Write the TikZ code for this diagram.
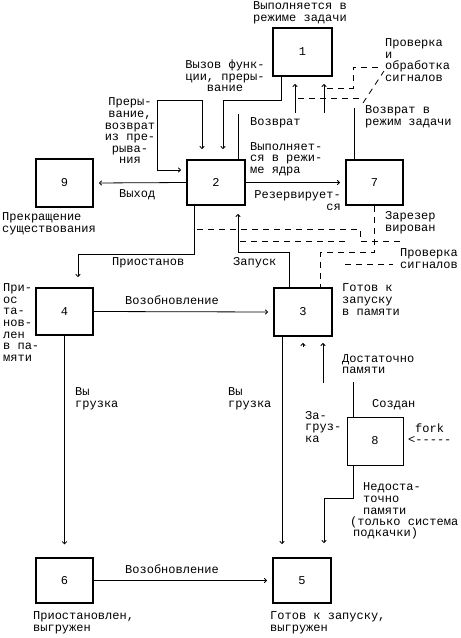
\documentclass[tikz,border=0pt]{standalone}
\usepackage{fontspec}
\newfontfamily\monofnt{Liberation Mono}
\usetikzlibrary{arrows.meta,calc}
\newcommand\lblf{\monofnt\fontsize{12}{11.6}\selectfont}
\begin{document}
\begin{tikzpicture}[x=1pt,y=-1pt,
  box/.style={draw, line width=2pt, minimum width=57pt, minimum height=46pt, inner sep=0pt, font=\lblf},
  lbl/.style={inner sep=0pt, font=\lblf},
  ln/.style={line width=0.8pt},
  arr/.style={ln, -{To[length=3pt,width=5pt]}, shorten >=5pt},
  darr/.style={ln, -{To[length=3pt,width=5pt]}, shorten >=10pt},
  dsh/.style={line width=0.8pt, dash pattern=on 6pt off 5pt}]
\useasboundingbox (0,0) rectangle (461,638);
% boxes
\node[box, minimum width=59pt, minimum height=48pt] (b1) at (302.5,52) {1};
\node[box, minimum width=58pt, minimum height=45pt] (b2) at (216,182.5) {2};
\node[box, minimum width=57pt, minimum height=45pt] (b7) at (374.5,182.5) {7};
\node[box, minimum width=57pt, minimum height=48pt] (b9) at (64.5,183) {9};
\node[box, minimum width=57pt, minimum height=47pt] (b4) at (64.5,311.5) {4};
\node[box, minimum width=58pt, minimum height=48pt] (b3) at (303,312) {3};
\node[box, line width=1.4pt, minimum width=57pt, minimum height=45pt] (b6) at (64.5,580.5) {6};
\node[box, minimum width=58pt, minimum height=45pt] (b5) at (302,580.5) {5};
\node[box, line width=1pt, minimum width=56pt, minimum height=48pt] (b8) at (375,441) {8};
% connectors
\draw[arr] (b2.west) -- (b9.east);
\draw[arr] (b2.east) -- (b7.west);
\draw[darr] ($(b1.south)+(-21.5,0)$) -- ++(0,23) -| ($(b2.north)+(7,0)$);
\draw[ln, {To[length=3pt,width=5pt]}-{To[length=3pt,width=5pt]}, shorten <=10pt, shorten >=5pt]
  ($(b2.north)+(-14,0)$) |- ($(b2.west)+(-29,-82.5)$) |- ($(b2.west)+(0,-12.5)$);
\coordinate (v1) at ($(b2.north)+(22,-45)$);
\draw[ln] ($(b2.north)+(22,0)$) -- (v1);
\coordinate (v2) at ($(b1.south)+(-7.5,36)$);
\draw[arr, shorten >=7pt] (v2) -- ($(b1.south)+(-7.5,0)$);
\coordinate (v3) at ($(b7.north)+(-20.5,-51)$);
\draw[ln] ($(b7.north)+(-20.5,0)$) -- (v3);
\coordinate (v4) at ($(b1.south)+(21.5,36)$);
\draw[arr, shorten >=7pt] (v4) -- ($(b1.south)+(21.5,0)$);
% dashed near box 1
\coordinate (s1) at (327,88);
\coordinate (s2) at (382,67);
\draw[dsh] (s1) -- (353,88) -- (353,67) -- (s2);
\coordinate (s3) at (298,98);
\coordinate (s4) at (360,95);
\draw[dsh] (s3) -| (s4);
\coordinate (s5) at (363,103);
\coordinate (s6) at (384,71);
\draw[dsh] (s5) -- (s6);
% box2 bottom
\draw[darr] ($(b2.south)+(-22,0)$) -- ++(0,48) -| ($(b4.north)+(13.5,0)$);
\draw[arr, shorten >=8pt] ($(b3.north)+(-14,0)$) -- ++(0,-35) -| ($(b2.south)+(22,0)$);
% dashed centre
\coordinate (s7) at (197,229);
\coordinate (s8) at (403,241);
\draw[dsh] (s7) -- (360,229) -- (360,241) -- (s8);
\coordinate (s9) at (240,241);
\coordinate (s10) at (345,241);
\draw[dsh] (s9) -- (s10);
\draw[dsh] (b7.south) |- ($(b3.north)+(17,-35)$) -- ($(b3.north)+(17,0)$);
\coordinate (s11) at (345,264);
\coordinate (s12) at (393,264);
\draw[dsh] (s11) -- (s12);
% middle and lower
\draw[arr] (b4.east) -- (b3.west);
\draw[darr, shorten >=13pt] (b4.south) -- (b6.north);
\coordinate (c35) at ($(b3.south)+(-21,0)$);
\draw[darr, shorten >=13pt] (c35) -- (c35 |- b5.north);
\draw[arr, shorten >=6pt] ($(b3.south)+(0,10)$) -- (b3.south);
\coordinate (d1) at ($(b8.north)+(-22,-35)$);
\draw[ln] ($(b8.north)+(-22,0)$) -- (d1);
\coordinate (d2) at ($(b3.south)+(20,46)$);
\draw[arr, shorten >=6pt] (d2) -- ($(b3.south)+(20,0)$);
\draw[darr, shorten >=14pt] ($(b8.south)+(-22,0)$) -- ++(0,33) -| ($(b5.north)+(22,0)$);
\draw[arr] (b6.east) -- (b5.west);
% labels
\node[lbl, align=center] (t1) at (300,13) {Выполняется в\\режиме задачи};
\node[lbl, align=center] (t2) at (225,76) {Вызов функ-\\ции, преры-\\вание};
\node[lbl, align=center] (t3) at (130,131) {Преры-\\вание,\\возврат\\из пре-\\рыва-\\ния};
\node[lbl, anchor=west] (t4) at (250,123) {Возврат};
\node[lbl, anchor=west, align=left] (t5) at (250,159) {Выполняет-\\ся в режи-\\ме ядра};
\node[lbl, anchor=west, align=left] (t6) at (385,60) {Проверка\\и\\обработка\\сигналов};
\node[lbl, anchor=west, align=left] (t7) at (365,116.5) {Возврат в\\режим задачи};
\node[lbl, anchor=west] (t8) at (119,195) {Выход};
\node[lbl, anchor=east, align=right] (t9) at (341,200.5) {Резервирует-\\ся};
\node[lbl, anchor=west, align=left] (t10) at (2,224) {Прекращение\\существования};
\node[lbl, anchor=west, align=left] (t11) at (385,222.5) {Зарезер\\вирован};
\node[lbl, anchor=west] (t12) at (112,263) {Приостанов};
\node[lbl, anchor=west] (t13) at (233,263) {Запуск};
\node[lbl, anchor=west, align=left] (t14) at (400,258.5) {Проверка\\сигналов};
\node[lbl, anchor=west, align=left] (t15) at (342,299.5) {Готов к\\запуску\\в памяти};
\node[lbl, anchor=west] (t16) at (125,300) {Возобновление};
\node[lbl, anchor=west, align=left] (t17) at (3,322.5) {При-\\ос\\та-\\нов-\\лен\\в па-\\мяти};
\node[lbl, anchor=west, align=left] (t18) at (75,399) {Вы\\грузка};
\node[lbl, anchor=west, align=left] (t19) at (228,399) {Вы\\грузка};
\node[lbl, anchor=west, align=left] (t20) at (342,364) {Достаточно\\памяти};
\node[lbl, anchor=west] (t21) at (372,405) {Создан};
\node[lbl, anchor=west, align=left] (t22) at (305,427) {За-\\груз-\\ка};
\node[lbl, anchor=west] (t23) at (415,428) {fork};
\node[lbl, anchor=west] (t24) at (408,440) {<-----};
\node[lbl, anchor=west, align=left] (t25) at (363,498.5) {Недоста-\\точно\\памяти};
\node[lbl, anchor=west, align=left] (t26) at (350,528) {(только система\\\hspace*{3pt}подкачки)};
\node[lbl, anchor=west] (t27) at (125,569) {Возобновление};
\node[lbl, anchor=west, align=left] (t28) at (33,622.5) {Приостановлен,\\выгружен};
\node[lbl, anchor=west, align=left] (t29) at (270,622.5) {Готов к запуску,\\выгружен};
\end{tikzpicture}
\end{document}
